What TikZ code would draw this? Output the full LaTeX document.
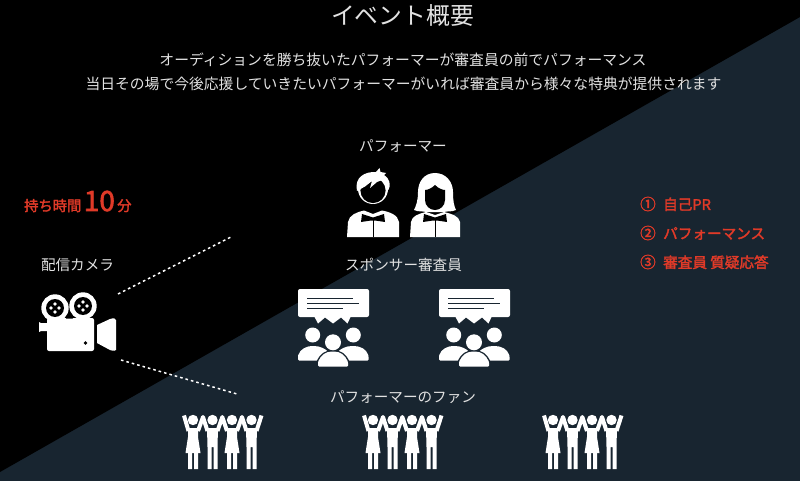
\documentclass[tikz,border=0pt]{standalone}
\usepackage{fontspec}
\setmainfont{Noto Sans CJK JP}
\newfontfamily\redfont[FakeBold=2.2]{Noto Sans CJK JP}
\definecolor{navybg}{HTML}{182530}
\definecolor{redtxt}{HTML}{E03A28}
\definecolor{lighttxt}{HTML}{E2E2E2}
\newcommand{\numtab}[1]{\makebox[23pt][l]{\fontsize{15.5}{16}\selectfont #1}}
\tikzset{
  x=1pt,y=-1pt,
  label text/.style={text=lighttxt,font=\fontsize{14.6}{16}\selectfont,inner sep=0pt},
  lead text/.style={text=lighttxt,font=\fontsize{14.8}{17}\selectfont,inner sep=0pt},
  red text/.style={text=redtxt,font=\redfont\fontsize{14.6}{16}\selectfont,inner sep=0pt,anchor=west},
  sight/.style={draw=white,line width=1.5pt,dash pattern=on 2.6pt off 3pt},
  audience/.pic={
    \fill[white,rounded corners=2pt] (298,289) rectangle (369,317);
    \fill[white] (314,316) -- (318,323.5) -- (325,317.5) -- (333,323.5) -- (341,317.5) -- (347.5,323.5) -- (351,316) -- cycle;
    \draw[navybg,line width=1.6pt] (307,298.3) -- (353,298.3) (307,303.3) -- (359,303.3) (307,308.3) -- (343,308.3);
    \fill[white] (312.7,335) circle (7.5) (353.3,335) circle (7.5);
    \fill[white,rounded corners=1pt] (298,360.5) -- (298,356) .. controls (300,349) and (307,346) .. (313,346) .. controls (320,346) and (326,349) .. (329,353) -- (329,360.5) -- cycle;
    \fill[white,rounded corners=1pt] (368.5,360.5) -- (368.5,356) .. controls (366.5,349) and (360,346) .. (353,346) .. controls (346,346) and (340,349) .. (337,353) -- (337,360.5) -- cycle;
    \fill[navybg] (333,342.3) circle (9.6);
    \draw[navybg,line width=3pt] (318,362) .. controls (321,355) and (326,351.5) .. (333,351.5) .. controls (340,351.5) and (345,355) .. (348,362);
    \fill[white] (333,342.3) circle (8);
    \fill[white,rounded corners=1pt] (318,366.5) -- (318,362) .. controls (321,355) and (326,351.5) .. (333,351.5) .. controls (340,351.5) and (345,355) .. (348,362) -- (348,366.5) -- cycle;
  },
  dressfig/.pic={
    \fill[white] (0,420) circle (5.2);
    \fill[white] (-5,428) -- (5,428) -- (5,437) -- (7.5,453) -- (-7.5,453) -- (-5,437) -- cycle;
    \fill[white] (-5,452) rectangle (-1,469) (1,452) rectangle (5,469);
  },
  malefig/.pic={
    \fill[white] (0,420) circle (5.2);
    \fill[white] (-5.5,428) -- (5.5,428) -- (5,447) -- (5,469) -- (1,469) -- (1,447) -- (-1,447) -- (-1,469) -- (-5,469) -- (-5,447) -- cycle;
  },
  fans/.pic={
    \pic at (193,0) {dressfig};
    \pic at (212.5,0) {malefig};
    \pic at (232,0) {dressfig};
    \pic at (251.5,0) {malefig};
    \draw[white,line width=4pt,line join=round]
      (184,415.5) -- (188.5,431)
      (198,431) -- (203,417) -- (207.5,431)
      (217.5,431) -- (222.3,417) -- (227,431)
      (237,431) -- (242,417) -- (246.5,431)
      (256.5,431) -- (261.5,415.5);
  },
}
\begin{document}
\begin{tikzpicture}
\useasboundingbox (0,0) rectangle (800,481);
\fill[navybg] (0,0) rectangle (800,481);
\fill[black] (0,0) -- (800,0) -- (800,17) -- (0,472) -- cycle;

% texts
\node[text=lighttxt,font=\fontsize{23.8}{26}\selectfont,inner sep=0pt] (title) at (402.5,15.5) {イベント概要};
\node[lead text] (lead1) at (403,60) {オーディションを勝ち抜いたパフォーマーが審査員の前でパフォーマンス};
\node[lead text] (lead2) at (403.5,84) {当日その場で今後応援していきたいパフォーマーがいれば審査員から様々な特典が提供されます};
\node[label text] (perf) at (403,146) {パフォーマー};
\node[label text] (cam) at (77.5,265) {配信カメラ};
\node[label text] (spon) at (403.5,265) {スポンサー審査員};
\node[label text] (fan) at (403,397) {パフォーマーのファン};
\node[text=redtxt,font=\redfont\fontsize{14.3}{16}\selectfont,inner sep=0pt,anchor=base west] (time) at (24,211) {持ち時間\,{\fontsize{28}{30}\selectfont 10}\,分};
\node[red text] (r1) at (640,204) {\numtab{①}自己PR};
\node[red text] (r2) at (640,233) {\numtab{②}パフォーマンス};
\node[red text] (r3) at (640,262) {\numtab{③}審査員 質疑応答};

% man
\fill[white] (347,237) -- (348,222) .. controls (349,215) and (357,212) .. (364,210.5) -- (373,214) -- (382,210.5) .. controls (390,212) and (398,215) .. (399,222) -- (399,237) -- cycle;
\fill[black] (362,214) -- (373,217.5) -- (384,214) -- (385,222) -- (375,220.5) -- (371,220.5) -- (361,222) -- cycle;
\draw[black,line width=1pt] (373,219) -- (373,237);
\fill[white] (373,189) circle (15);
\fill[black] (373,190.5) circle (12.6);
\fill[white] (357,191) .. controls (354,177) and (365,171.5) .. (376,172) -- (379.5,168) -- (380.5,172) -- (386,173) -- (384,175) .. controls (390,179) and (391,185) .. (388.5,190) -- (382,180) -- (377,182) -- (370,188) -- (372,181) -- (365,186.5) -- cycle;

% woman
\fill[white] (410,237) -- (411,222) .. controls (412,216) and (418,214) .. (426,212) -- (435,215) -- (444,212) .. controls (452,214) and (459,216) .. (460,222) -- (460,237) -- cycle;
\fill[black] (424,214) -- (435,217.5) -- (446,214) -- (447,222) -- (437,220.5) -- (433,220.5) -- (423,222) -- cycle;
\draw[black,line width=1pt] (435,219) -- (435,237);
\fill[white] (435,173) .. controls (446,173) and (453,182) .. (453,192) .. controls (453,201) and (454,206) .. (456,210) .. controls (452,212) and (447,211) .. (444,212) -- (426,212) .. controls (423,211) and (418,212) .. (414,210) .. controls (416,206) and (418,201) .. (418,192) .. controls (418,182) and (424,173) .. (435,173) -- cycle;
\fill[black] (435,185) .. controls (439,189) and (443,190) .. (445,190) -- (445,200) .. controls (445,206) and (440,210) .. (435,210) .. controls (430,210) and (425,206) .. (425,200) -- (425,190) .. controls (428,190) and (432,188) .. (435,185) -- cycle;

% sponsors
\pic at (0,0) {audience};
\pic at (141,0) {audience};

% camera
\fill[white] (55,308) circle (13.7) (83,306) circle (13.7);
\fill[black] (55,308) circle (9) (83,306) circle (9);
\foreach \cx/\cy in {55/308,83/306}{
  \fill[white] (\cx,\cy-4) circle (1.8) (\cx,\cy+4) circle (1.8) (\cx-4,\cy) circle (1.8) (\cx+4,\cy) circle (1.8);
}
\fill[white,rounded corners=2pt] (47,318) rectangle (94,351);
\fill[black] (67,316) -- (70,316) -- (73,318.5) -- (66,318.5) -- cycle;
\fill[white] (39,322) -- (41,323) -- (47,323) -- (47,331) -- (41,331) -- (39,332) -- cycle;
\fill[black] (85.5,343) circle (1.8);
\fill[white] (97,325) -- (110,319) .. controls (113,318) and (116,318) .. (116,320) -- (116,350) .. controls (116,351) and (113,351) .. (110,350) -- (97,343) -- cycle;
\coordinate (camTop) at (118,294);
\coordinate (camBot) at (121,360);
\coordinate (viewTop) at (231,237);
\coordinate (viewBot) at (237,394);
\draw[sight] (camTop) -- (viewTop);
\draw[sight] (camBot) -- (viewBot);

% fans
\pic at (0,0) {fans};
\pic at (180,0) {fans};
\pic at (360,0) {fans};
\end{tikzpicture}
\end{document}
